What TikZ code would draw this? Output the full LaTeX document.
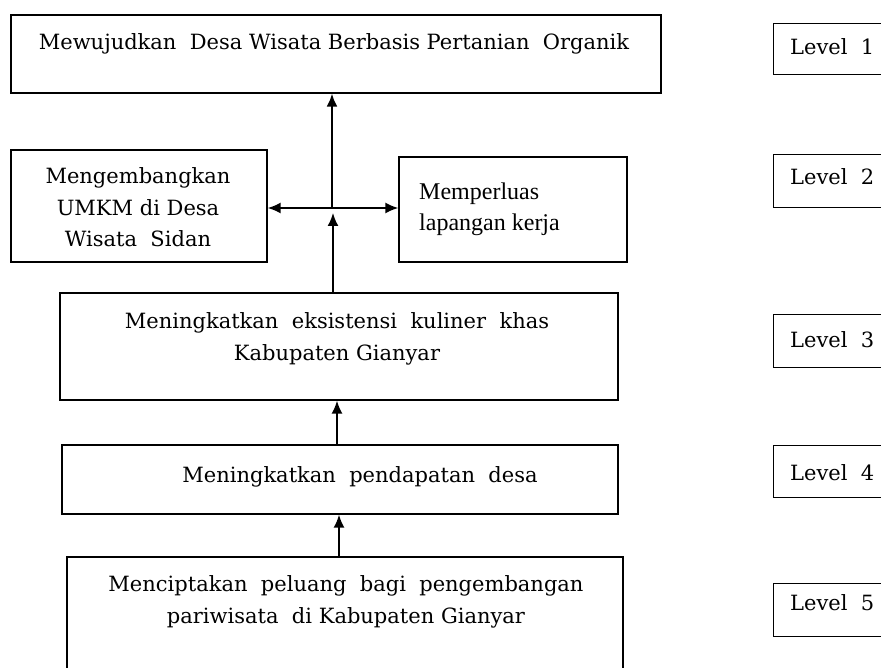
\documentclass[tikz,border=0pt]{standalone}
\usepackage{fontspec}
\setmainfont{DejaVu Serif}
\newfontfamily\tnr{Liberation Serif}
\usetikzlibrary{arrows.meta}
\begin{document}
\begin{tikzpicture}[x=1pt,y=-1pt,
  box/.style={draw, line width=1.3pt, inner sep=0pt, rectangle},
  txt/.style={inner sep=0pt, align=center, font=\fontsize{21}{31.5}\selectfont},
  ltxt/.style={inner sep=0pt, anchor=base west, font=\fontsize{21}{31}\selectfont},
  arr/.style={line width=1.8pt, -{Latex[length=13pt,width=11pt]}}]
\useasboundingbox (0,0) rectangle (881,668);
\clip (0,0) rectangle (881,668);
% main boxes
\node[box, minimum width=650pt, minimum height=78pt] (top) at (336,54) {};
\node[box, minimum width=256pt, minimum height=112pt] (meng) at (139,206) {};
\node[box, minimum width=228pt, minimum height=105pt] (memp) at (513,209.5) {};
\node[box, minimum width=558pt, minimum height=107pt] (eks) at (339,346.5) {};
\node[box, minimum width=556pt, minimum height=69pt] (pend) at (340,479.5) {};
\node[box, minimum width=556pt, minimum height=133pt] (menc) at (345,623.5) {};
% texts (base anchor = baseline of last line)
\node[txt, anchor=base] (ttop) at (334,50) {Mewujudkan\ \ Desa Wisata Berbasis Pertanian\ \ Organik};
\node[txt, anchor=base] (tmeng) at (138,247) {Mengembangkan\\UMKM di Desa\\Wisata\ \ Sidan};
\node[inner sep=0pt, anchor=base west, align=left, font=\tnr\fontsize{24}{31}\selectfont] (tmemp) at (419,231) {Memperluas\\lapangan kerja};
\node[txt, anchor=base] (teks) at (337,360) {Meningkatkan\ \ eksistensi\ \ kuliner\ \ khas\\Kabupaten Gianyar};
\node[txt, anchor=base] (tpend) at (360,482) {Meningkatkan\ \ pendapatan\ \ desa};
\node[txt, anchor=base] (tmenc) at (346,623) {Menciptakan\ \ peluang\ \ bagi\ \ pengembangan\\pariwisata\ \ di Kabupaten Gianyar};
% level boxes
\node[box, minimum width=130pt, minimum height=51pt, anchor=north west] (l1) at (773,23) {};
\node[box, minimum width=130pt, minimum height=53pt, anchor=north west] (l2) at (773,154) {};
\node[box, minimum width=130pt, minimum height=53pt, anchor=north west] (l3) at (773,314) {};
\node[box, minimum width=130pt, minimum height=52pt, anchor=north west] (l4) at (773,445) {};
\node[box, minimum width=130pt, minimum height=53pt, anchor=north west] (l5) at (773,583) {};
\node[ltxt] (tl1) at (790,55) {Level\ \ 1};
\node[ltxt] (tl2) at (790,185) {Level\ \ 2};
\node[ltxt] (tl3) at (790,348) {Level\ \ 3};
\node[ltxt] (tl4) at (790,480) {Level\ \ 4};
\node[ltxt] (tl5) at (790,610) {Level\ \ 5};
% connectors
\coordinate (J) at (332,208);
\coordinate (J2) at (333,213);
\coordinate (A1) at (337,0);
\coordinate (A2) at (339,0);
\draw[arr, line width=2.2pt] (J) -- (J |- top.south);
\draw[arr] (J) -- (J -| meng.east);
\draw[arr] (J) -- (J -| memp.west);
\draw[arr] (J2 |- eks.north) -- (J2);
\draw[arr] (A1 |- pend.north) -- (A1 |- eks.south);
\draw[arr] (A2 |- menc.north) -- (A2 |- pend.south);
\end{tikzpicture}
\end{document}
